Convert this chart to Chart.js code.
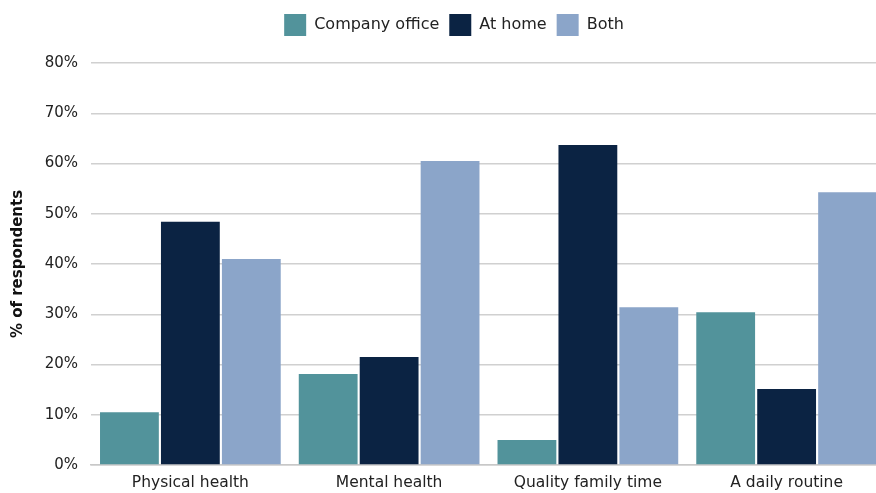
<!DOCTYPE html>
<html>
<head>
<meta charset="utf-8">
<script src="https://cdn.jsdelivr.net/npm/chart.js@4"></script>
<style>
  html, body { margin: 0; padding: 0; overflow: hidden; background: #fff; }
  #wrap { width: 886px; height: 493px; position: relative; }
</style>
</head>
<body>
<div id="wrap"><canvas id="c"></canvas></div>
<script>
const categories = ["Physical health", "Mental health", "Quality family time", "A daily routine"];
const seriesNames = ["Company office", "At home", "Both"];
const companyOffice = [10.5, 18.1, 5.0, 30.4];
const atHome = [48.4, 21.5, 63.7, 15.1];
const both = [41.0, 60.5, 31.4, 54.3];
const yTicks = [0, 10, 20, 30, 40, 50, 60, 70, 80];

const colors = ["#52939b", "#0b2343", "#8ba5c9"];
const FONT = "'DejaVu Sans', sans-serif";

const legendTweak = {
  id: 'legendTweak',
  beforeInit(chart) {
    const lg = chart.legend;
    if (!lg) return;
    const orig = lg.fit;
    lg.fit = function () { orig.call(this); this.height += 17; };
  },
  afterLayout(chart) {
    if (chart.legend) { chart.legend.left += 9; chart.legend.right += 9; }
  }
};

new Chart(document.getElementById('c'), {
  type: 'bar',
  data: {
    labels: categories,
    datasets: [companyOffice, atHome, both].map((d, i) => ({
      label: seriesNames[i],
      data: d,
      backgroundColor: colors[i],
      borderWidth: 0,
      categoryPercentage: 0.92,
      barPercentage: 0.965
    }))
  },
  options: {
    responsive: true,
    maintainAspectRatio: false,
    animation: false,
    layout: { padding: { top: 4, right: 0, left: 4, bottom: 0 } },
    plugins: {
      legend: {
        position: 'top',
        labels: {
          boxWidth: 22, boxHeight: 22, padding: 10,
          color: '#222', font: { family: FONT, size: 16 }
        }
      },
      tooltip: { enabled: false }
    },
    scales: {
      x: {
        grid: { display: false, drawTicks: false },
        border: { display: true, color: '#c8c8c8', width: 1.5 },
        ticks: { color: '#222', font: { family: FONT, size: 15.5 }, padding: 9 },
        afterFit(scale) { scale.height = 28; }
      },
      y: {
        min: 0, max: 80,
        afterBuildTicks(scale) { scale.ticks = yTicks.map(v => ({ value: v })); },
        afterFit(scale) { scale.width = 87; },
        grid: { color: '#d0d0d0', lineWidth: 1.5, drawTicks: false },
        border: { display: false },
        ticks: {
          color: '#222', font: { family: FONT, size: 15 }, padding: 13,
          callback: v => v + '%'
        },
        title: {
          display: true, text: '% of respondents', color: '#111',
          font: { family: FONT, size: 15, weight: 'bold' }, padding: { top: 5, bottom: 4 }
        }
      }
    }
  },
  plugins: [legendTweak]
});
</script>
</body>
</html>
